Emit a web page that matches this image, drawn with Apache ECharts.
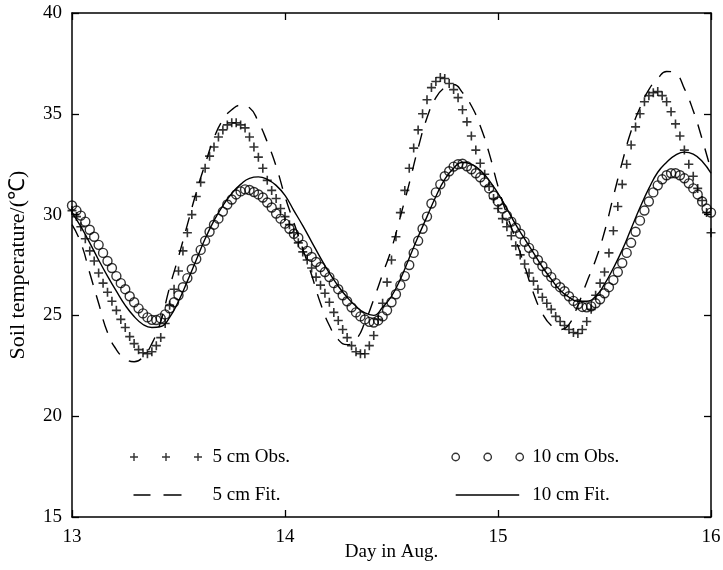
<!DOCTYPE html>
<html>
<head>
<meta charset="utf-8">
<script src="https://cdn.jsdelivr.net/npm/echarts@6/dist/echarts.min.js"></script>
<style>
html,body{margin:0;padding:0;background:#fff;}
#chart{width:723px;height:570px;}
</style>
</head>
<body>
<div id="chart"></div>
<script>
// Sampling: observations every 30 min, fits every hour, starting Aug 13 00:00
const dayStart = 13;
const obsStepHours = 0.5;
const fitStepHours = 1;

// 5 cm observed soil temperature (°C), every 30 min
const obs5 = [
  30.2, 29.9, 29.4, 28.8, 28.2, 27.7, 27.1, 26.6, 26.15, 25.7, 25.25, 24.8,
  24.4, 23.95, 23.6, 23.3, 23.15, 23.1, 23.2, 23.5, 23.9, 24.6, 25.5, 26.3,
  27.2, 28.2, 29.1, 30.0, 30.9, 31.6, 32.3, 32.9, 33.35, 33.85, 34.2, 34.45,
  34.55, 34.55, 34.45, 34.3, 33.85, 33.35, 32.85, 32.3, 31.7, 31.2, 30.8, 30.3,
  29.9, 29.5, 29.1, 28.6, 28.15, 27.75, 27.35, 26.9, 26.5, 26.1, 25.65, 25.15,
  24.75, 24.3, 23.9, 23.5, 23.2, 23.1, 23.1, 23.5, 24.0, 24.8, 25.6, 26.65,
  27.75, 28.9, 30.1, 31.2, 32.3, 33.3, 34.2, 35.0, 35.7, 36.3, 36.6, 36.8,
  36.75, 36.5, 36.2, 35.8, 35.2, 34.6, 33.9, 33.2, 32.55, 32.0, 31.4, 30.8,
  30.3, 29.8, 29.4, 28.95, 28.45, 28.0, 27.55, 27.1, 26.7, 26.3, 25.9, 25.6,
  25.3, 24.95, 24.7, 24.5, 24.3, 24.15, 24.1, 24.3, 24.7, 25.3, 26.0, 26.6,
  27.15, 28.1, 29.2, 30.4, 31.5, 32.5, 33.45, 34.35, 35.0, 35.6, 35.9, 36.05,
  36.1, 35.9, 35.6, 35.1, 34.5, 33.9, 33.2, 32.5, 31.9, 31.3, 30.7, 30.1,
  29.1
];

// 10 cm observed soil temperature (°C), every 30 min
const obs10 = [
  30.45, 30.2, 29.95, 29.65, 29.25, 28.9, 28.5, 28.1, 27.7, 27.35, 26.95, 26.6,
  26.3, 25.95, 25.65, 25.35, 25.1, 24.9, 24.78, 24.77, 24.85, 25.05, 25.35, 25.65,
  26.0, 26.4, 26.85, 27.3, 27.8, 28.25, 28.7, 29.15, 29.5, 29.8, 30.15, 30.5,
  30.75, 31.0, 31.15, 31.25, 31.22, 31.12, 31.0, 30.85, 30.6, 30.35, 30.05, 29.8,
  29.55, 29.3, 29.05, 28.85, 28.5, 28.2, 27.9, 27.65, 27.4, 27.15, 26.9, 26.6,
  26.3, 26.0, 25.7, 25.4, 25.15, 24.95, 24.8, 24.68, 24.65, 24.75, 24.95, 25.25,
  25.65, 26.05, 26.5, 26.95, 27.5, 28.1, 28.7, 29.3, 29.9, 30.55, 31.1, 31.5,
  31.9, 32.15, 32.38, 32.5, 32.52, 32.4, 32.25, 32.05, 31.85, 31.6, 31.3, 30.95,
  30.65, 30.3, 29.95, 29.65, 29.35, 29.05, 28.65, 28.35, 28.05, 27.75, 27.45, 27.15,
  26.9, 26.6, 26.4, 26.2, 25.95, 25.72, 25.55, 25.42, 25.4, 25.45, 25.6, 25.8,
  26.1, 26.4, 26.75, 27.15, 27.6, 28.1, 28.6, 29.15, 29.7, 30.2, 30.65, 31.1,
  31.45, 31.75, 31.95, 32.05, 32.05, 31.95, 31.8, 31.55, 31.3, 31.0, 30.65, 30.3,
  30.1
];

// 5 cm fitted curve (°C), hourly
const fit5 = [
  29.5, 28.6, 27.1, 25.6, 24.15, 23.3, 22.85, 22.7, 22.95, 23.6, 24.7, 26.4,
  27.9, 29.5, 31.1, 32.5, 33.8, 34.7, 35.2, 35.42, 35.3, 34.6, 33.6, 32.4,
  30.9, 29.6, 28.3, 27.0, 25.6, 24.5, 23.8, 23.55, 23.8, 24.65, 25.8, 27.05,
  28.3, 29.9, 31.55, 33.3, 34.8, 35.8, 36.3, 36.45, 36.05, 35.4, 34.4, 33.05,
  31.4, 30.0, 28.75, 27.45, 26.1, 25.1, 24.5, 24.3, 24.55, 25.5, 26.65, 27.75,
  29.15, 30.9, 32.6, 34.15, 35.3, 36.2, 36.75, 37.1, 37.0, 36.25, 35.15, 33.75,
  32.2
];

// 10 cm fitted curve (°C), hourly
const fit10 = [
  30.1, 29.4, 28.6, 27.75, 26.95, 26.2, 25.5, 24.95, 24.55, 24.4, 24.45, 24.9,
  25.7, 26.7, 27.75, 28.8, 29.7, 30.45, 31.05, 31.5, 31.8, 31.87, 31.75, 31.45,
  30.95, 30.2, 29.45, 28.65, 27.85, 27.1, 26.45, 25.9, 25.45, 25.12, 25.0, 25.4,
  25.95, 26.8, 27.85, 28.9, 29.9, 30.9, 31.75, 32.3, 32.6, 32.5, 32.2, 31.7,
  31.05, 30.3, 29.5, 28.8, 28.1, 27.4, 26.8, 26.25, 25.9, 25.7, 25.7, 25.95,
  26.55, 27.35, 28.25, 29.3, 30.35, 31.3, 32.1, 32.6, 32.95, 33.1, 33.0, 32.65,
  32.05
];

const xTicks = [13, 14, 15, 16];
const yTicks = [15, 20, 25, 30, 35, 40];
const seriesNames = ['5 cm Obs.', '5 cm Fit.', '10 cm Obs.', '10 cm Fit.'];
const xName = 'Day in Aug.';
const yName = 'Soil temperature/(\u2103)';

const toPairs = (arr, stepH) => arr.map((v, i) => [dayStart + i * stepH / 24, v]);

const FONT = "'Liberation Serif', 'Times New Roman', serif";
const plusSymbol = 'path://M0,4.1H10V5.9H0Z M4.1,0H5.9V10H4.1Z';

// legend icons (box made explicit with leading moveTo points)
const legPlus = 'path://M0,0 M78,9 M0.5,3.8H8.5V5.2H0.5Z M3.8,0.5H5.2V8.5H3.8Z M32.5,3.8H40.5V5.2H32.5Z M35.8,0.5H37.2V8.5H35.8Z M64.5,3.8H72.5V5.2H64.5Z M67.8,0.5H69.2V8.5H67.8Z';
const legDash = 'path://M0,0 M78,9 M4,3.8H21V5.2H4Z M34,3.8H52V5.2H34Z';
const legRing = 'path://M0,0 M76,9 M0.8,4.5 A3.7,3.7 0 1 1 8.2,4.5 A3.7,3.7 0 1 1 0.8,4.5 Z M32.8,4.5 A3.7,3.7 0 1 1 40.2,4.5 A3.7,3.7 0 1 1 32.8,4.5 Z M64.8,4.5 A3.7,3.7 0 1 1 72.2,4.5 A3.7,3.7 0 1 1 64.8,4.5 Z';
const legSolid = 'path://M0,0 M76,9 M4.5,3.85H68V5.15H4.5Z';

const chart = echarts.init(document.getElementById('chart'), null, {renderer: 'canvas'});

const axisCommon = {
  axisLine: {show: true, lineStyle: {color: '#000', width: 1.5}},
  axisTick: {show: true, inside: true, length: 7, lineStyle: {color: '#000', width: 1.3}},
  splitLine: {show: false}
};

const legendText = {fontFamily: FONT, fontSize: 19, color: '#000', lineHeight: 20};

chart.setOption({
  animation: false,
  backgroundColor: '#fff',
  grid: {left: 72, right: 12, top: 13, bottom: 53, containLabel: false, outerBoundsMode: 'none'},
  xAxis: [
    Object.assign({
      type: 'value', min: xTicks[0], max: xTicks[xTicks.length - 1], interval: 1,
      position: 'bottom',
      name: xName, nameLocation: 'middle', nameGap: 26, nameMoveOverlap: false,
      nameTextStyle: {fontFamily: FONT, fontSize: 19, color: '#000'},
      axisLabel: {fontFamily: FONT, fontSize: 19, color: '#000', margin: 11}
    }, axisCommon),
    Object.assign({
      type: 'value', min: xTicks[0], max: xTicks[xTicks.length - 1], interval: 1,
      position: 'top', axisLabel: {show: false}
    }, axisCommon)
  ],
  yAxis: [
    Object.assign({
      type: 'value', min: yTicks[0], max: yTicks[yTicks.length - 1], interval: 5,
      position: 'left',
      name: yName, nameLocation: 'middle', nameRotate: 90, nameGap: 43, nameMoveOverlap: false,
      nameTextStyle: {fontFamily: FONT, fontSize: 22, color: '#000'},
      axisLabel: {fontFamily: FONT, fontSize: 19, color: '#000', margin: 10}
    }, axisCommon),
    Object.assign({
      type: 'value', min: yTicks[0], max: yTicks[yTicks.length - 1], interval: 5,
      position: 'right', axisLabel: {show: false}
    }, axisCommon)
  ],
  legend: [
    {
      orient: 'vertical', left: 129.5, top: 447, itemGap: 18, padding: 0,
      itemWidth: 78, itemHeight: 9, selectedMode: false,
      textStyle: legendText,
      data: [
        {name: seriesNames[0], icon: legPlus, itemStyle: {color: '#000', borderWidth: 0}},
        {name: seriesNames[1], icon: legDash, itemStyle: {color: '#000', borderWidth: 0}}
      ]
    },
    {
      orient: 'vertical', left: 450.5, top: 447, itemGap: 18, padding: 0,
      itemWidth: 76, itemHeight: 9, selectedMode: false,
      textStyle: legendText,
      data: [
        {name: seriesNames[2], icon: legRing, itemStyle: {color: 'rgba(0,0,0,0)', borderColor: '#000', borderWidth: 1.4}},
        {name: seriesNames[3], icon: legSolid, itemStyle: {color: '#000', borderWidth: 0}}
      ]
    }
  ],
  series: [
    {
      name: seriesNames[0], type: 'scatter', data: toPairs(obs5, obsStepHours),
      symbol: plusSymbol, symbolSize: 9, clip: false,
      itemStyle: {color: '#000'}, z: 3
    },
    {
      name: seriesNames[1], type: 'line', data: toPairs(fit5, fitStepHours),
      showSymbol: false, symbol: 'none', smooth: true,
      lineStyle: {color: '#000', width: 1.4, type: [14, 11]},
      itemStyle: {color: '#000'}, z: 2
    },
    {
      name: seriesNames[2], type: 'scatter', data: toPairs(obs10, obsStepHours),
      symbol: 'circle', symbolSize: 9, clip: false,
      itemStyle: {color: 'rgba(0,0,0,0)', borderColor: '#000', borderWidth: 1.4}, z: 3
    },
    {
      name: seriesNames[3], type: 'line', data: toPairs(fit10, fitStepHours),
      showSymbol: false, symbol: 'none', smooth: true,
      lineStyle: {color: '#000', width: 1.4},
      itemStyle: {color: '#000'}, z: 2
    }
  ]
});
</script>
</body>
</html>
